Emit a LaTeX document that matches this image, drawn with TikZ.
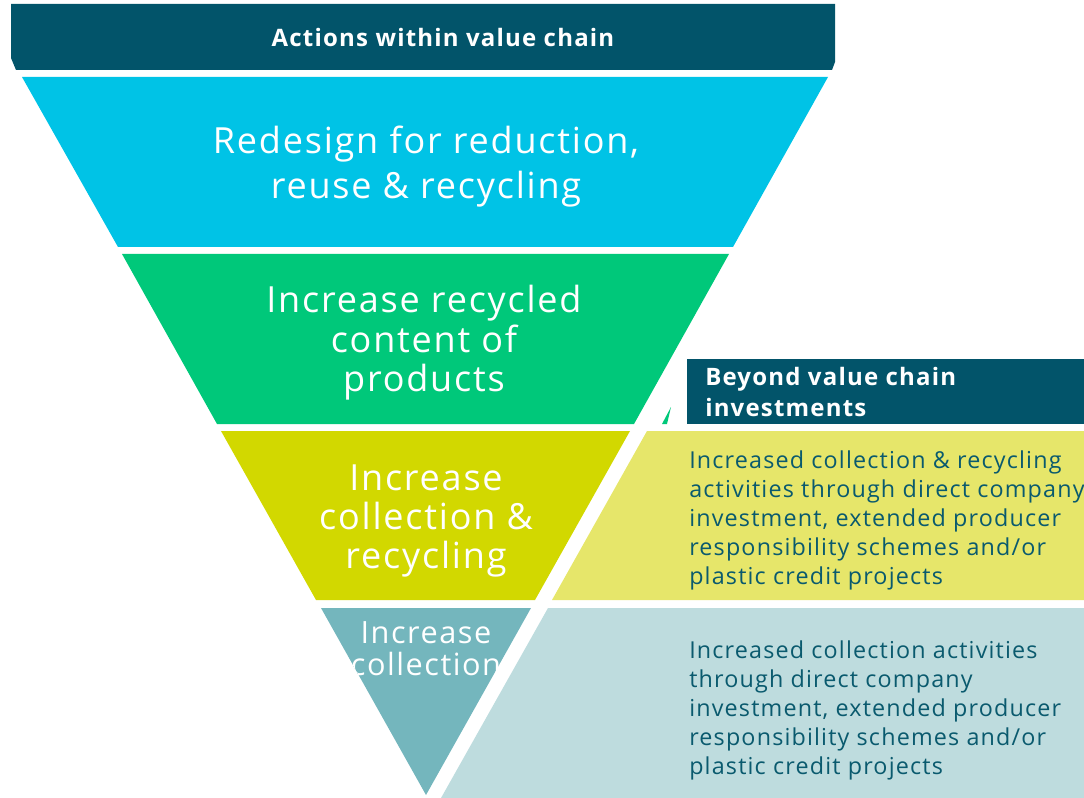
\documentclass[tikz,border=0pt]{standalone}
\usepackage{fontspec}
\setmainfont{Open Sans}[LetterSpace=5]
\definecolor{banner}{HTML}{02546A}
\definecolor{reduce}{HTML}{00C3E6}
\definecolor{recycled}{HTML}{00C87A}
\definecolor{collrec}{HTML}{D2D800}
\definecolor{coll}{HTML}{74B6BD}
\definecolor{collrecpanel}{HTML}{E6E66A}
\definecolor{collpanel}{HTML}{BEDCDE}
\definecolor{paneltextcol}{HTML}{0A5A6E}
\begin{document}
\begin{tikzpicture}[x=0.75pt,y=-0.75pt,
	bandtext/.style={text=white,align=center,inner sep=0pt},
	paneltext/.style={text=paneltextcol,align=left,anchor=west,inner sep=0pt,font=\fontsize{17.5}{21.75}\selectfont}]
	\useasboundingbox (0,0) rectangle (1084,798);
	
	\fill[banner] (11,4) -- (835,4) -- (835,62) -- (832,70) -- (16,70) -- (11,58) -- cycle;
	\node[bandtext,font=\fontsize{18}{20}\selectfont\bfseries] (actions) at (443,38) {Actions within value chain};
	
	\fill[reduce] (22,77) -- (828,77) -- (733,247) -- (118,247) -- cycle;
	\fill[recycled] (122,254) -- (729,254) -- (634,424) -- (217,424) -- cycle;
	\fill[recycled] (662,424) -- (671,407) -- (667,424) -- cycle;
	\fill[collrec] (221,431) -- (630,431) -- (535,600) -- (316,600) -- cycle;
	\fill[coll] (321,608) -- (531,608) -- (426,795) -- cycle;
	
	\node[bandtext,font=\fontsize{27}{33.75}\selectfont] (redesign) at (426,167) {Redesign for reduction,\\reuse \& recycling};
	\node[bandtext,font=\fontsize{27}{29.6}\selectfont] (recycledtxt) at (424,343) {Increase recycled\\content of\\products};
	\node[bandtext,font=\fontsize{27}{29.3}\selectfont] (collrectxt) at (426,521) {Increase\\collection \&\\recycling};
	\begin{scope}
		\clip (321,608) -- (531,608) -- (426,795) -- cycle;
		\node[bandtext,font=\fontsize{23}{24}\selectfont] (colltxt) at (426,649) {Increase\\collection};
	\end{scope}
	
	\fill[banner] (687,359) rectangle (1084,424);
	\node[bandtext,align=left,anchor=west,font=\fontsize{18}{23.25}\selectfont\bfseries] (beyond) at (705,392) {Beyond value chain\\investments};
	\fill[collrecpanel] (647,431) -- (1084,431) -- (1084,600) -- (552,600) -- cycle;
	\fill[collpanel] (548,608) -- (1084,608) -- (1084,798) -- (441,798) -- cycle;
	
	\node[paneltext] (collrecnote) at (689,520) {Increased collection \& recycling\\activities through direct company\\investment, extended producer\\responsibility schemes and/or\\plastic credit projects};
	\node[paneltext] (collnote) at (689,710) {Increased collection activities\\through direct company\\investment, extended producer\\responsibility schemes and/or\\plastic credit projects};
\end{tikzpicture}
\end{document}
